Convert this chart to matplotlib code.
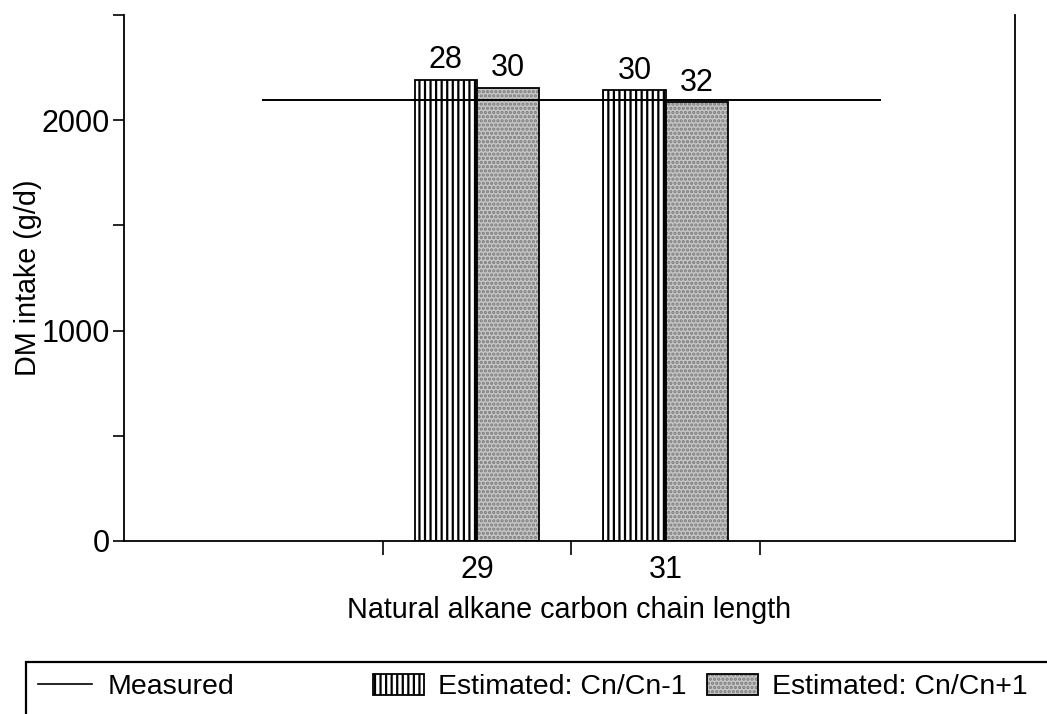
import matplotlib
matplotlib.use("Agg")
import matplotlib.pyplot as plt
from matplotlib.patches import Patch, Rectangle
from matplotlib.lines import Line2D
import numpy as np

plt.rcParams['font.family'] = ['Liberation Sans', 'DejaVu Sans']
plt.rcParams['hatch.linewidth'] = 1.6

# ---- data ----
categories = ["29", "31"]
est_minus = [2193, 2142]          # Estimated: Cn/Cn-1
est_plus = [2155, 2085]           # Estimated: Cn/Cn+1
minus_labels = ["28", "30"]
plus_labels = ["30", "32"]
measured = 2095
y_ticklabels = ["0", "", "1000", "", "2000", ""]
y_ticks = [0, 500, 1000, 1500, 2000, 2500]
series_names = ["Measured", "Estimated: Cn/Cn-1", "Estimated: Cn/Cn+1"]

W, H = 1047, 714
fig = plt.figure(figsize=(W / 100, H / 100), dpi=100)
ax = fig.add_axes([0.1184, 0.2423, 0.8510, 0.7367])

GRAY = "#c6c6c6"
DOT = "#7a7a7a"
x = np.arange(len(categories))
w = 0.33
b1 = ax.bar(x - w / 2, est_minus, width=w, facecolor="white", edgecolor="black",
            hatch="|||", linewidth=1.3, zorder=2)
# stippled grey bars: dotted fill, then black outline
b2 = ax.bar(x + w / 2, est_plus, width=w, facecolor=GRAY, edgecolor=DOT,
            hatch="....", linewidth=0, zorder=2)
ax.bar(x + w / 2, est_plus, width=w, fill=False, edgecolor="black",
       linewidth=1.3, zorder=2.1)
ax.hlines(measured, -1.14, 2.14, color="black", linewidth=1.4, zorder=3)

for bars, labs in ((b1, minus_labels), (b2, plus_labels)):
    for rect, lab in zip(bars, labs):
        ax.text(rect.get_x() + rect.get_width() / 2, rect.get_height() + 22, lab,
                ha="center", va="bottom", fontsize=22)

ax.set_xlim(-1.87, 2.85)
ax.set_ylim(0, 2500)
ax.set_xticks(x)
ax.set_xticklabels(categories, fontsize=22)
ax.tick_params(axis="x", which="major", length=0, pad=10)
ax.set_xticks([-0.5, 0.5, 1.5], minor=True)
ax.tick_params(axis="x", which="minor", length=10, width=1.2, direction="out")
ax.set_yticks(y_ticks)
ax.set_yticklabels(y_ticklabels, fontsize=22)
ax.tick_params(axis="y", length=8, width=1.2, direction="out", pad=2)

ax.spines["top"].set_visible(False)
for s in ["left", "right", "bottom"]:
    ax.spines[s].set_linewidth(1.3)

ax.set_xlabel("Natural alkane carbon chain length", fontsize=20.7, labelpad=8)
ax.set_ylabel("DM intake (g/d)", fontsize=20.7, labelpad=0)

# ---- legend (box extends past the figure edge as in the reference) ----
fig.add_artist(Rectangle((26 / W, -0.1), 1.2, 0.1 + (H - 662) / H,
                         transform=fig.transFigure, fill=False,
                         edgecolor="black", linewidth=1.6))
ycen = 1 - 687 / H
fig.legend([Line2D([0], [0], color="black", linewidth=1.2)],
           [series_names[0]], loc="center left",
           bbox_to_anchor=(38 / W, ycen), frameon=False, fontsize=20.5,
           borderpad=0, borderaxespad=0, handlelength=1.9,
           handletextpad=0.55)
fig.legend([Patch(facecolor="white", edgecolor="black", hatch="|||", linewidth=1.3),
            (Patch(facecolor=GRAY, edgecolor=DOT, hatch="....", linewidth=0),
             Patch(fill=False, edgecolor="black", linewidth=1.3))],
           series_names[1:], ncol=2, loc="center left",
           bbox_to_anchor=(373 / W, ycen), frameon=False, fontsize=20.5,
           borderpad=0, borderaxespad=0, handlelength=1.8,
           handleheight=0.75, handletextpad=0.5, columnspacing=0.7)

fig.savefig("out.png", dpi=100)
